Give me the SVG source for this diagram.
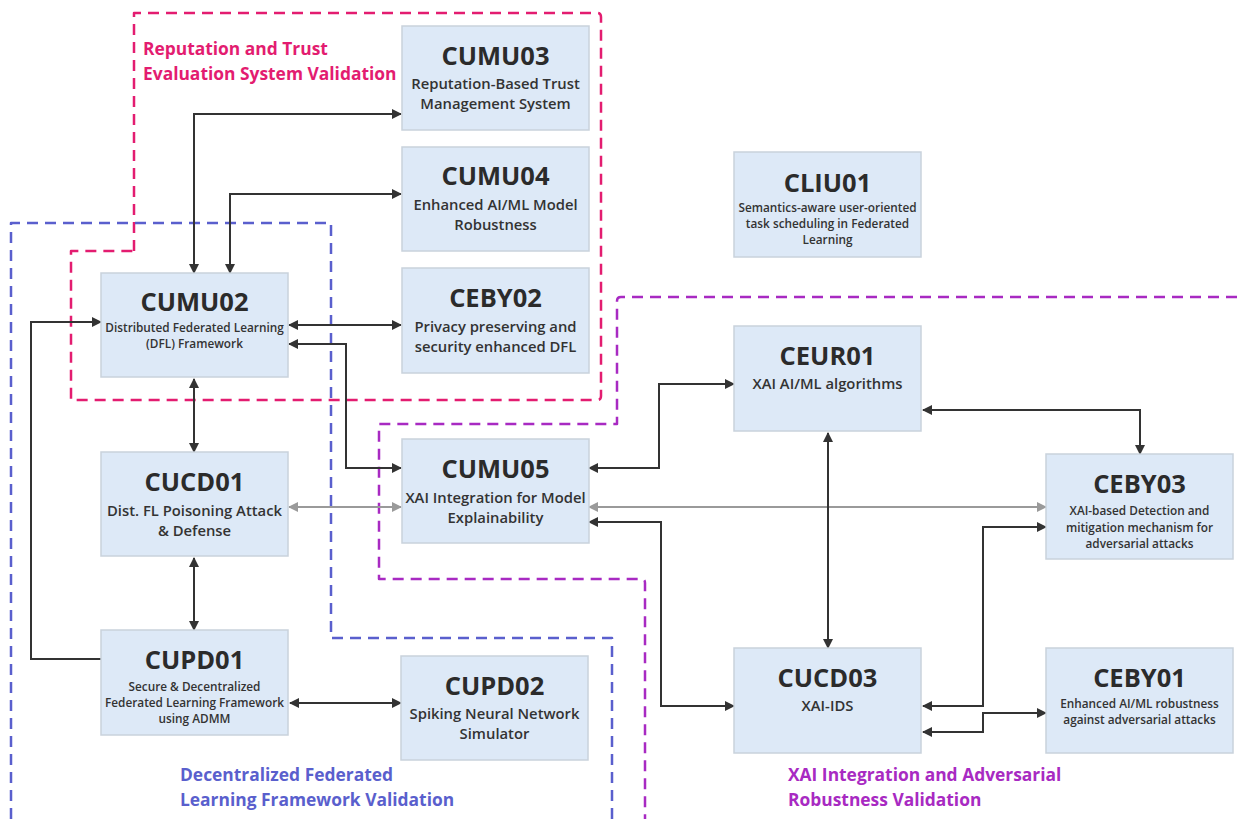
<svg xmlns="http://www.w3.org/2000/svg" width="1237" height="819" viewBox="0 0 1237 819">
  <defs>
    <style>
      .node rect { fill: #dde9f7; stroke: #c9d2dc; stroke-width: 1.5; }
      .title { font-family: "Open Sans", "Noto Sans", sans-serif; font-weight: 700; font-size: 25.5px; fill: #2b2b2b; text-anchor: middle; }
      .sub { font-family: "Open Sans", "Noto Sans", sans-serif; font-weight: 600; font-size: 14.8px; fill: #333; text-anchor: middle; }
      .sub-s { font-family: "Open Sans", "Noto Sans", sans-serif; font-weight: 600; font-size: 11.8px; fill: #333; text-anchor: middle; }
      .zone { fill: none; stroke-width: 2.5; stroke-dasharray: 11 7; stroke-linejoin: round; }
      .zone-label { font-family: "Open Sans", "Noto Sans", sans-serif; font-weight: 700; font-size: 17.4px; }
      .link { fill: none; stroke: #333; stroke-width: 2; marker-start: url(#head); marker-end: url(#head); }
      .link-one { fill: none; stroke: #333; stroke-width: 2; marker-end: url(#head); }
      .link-grey { fill: none; stroke: #9a9a9a; stroke-width: 2; marker-start: url(#head-grey); marker-end: url(#head-grey); }
    </style>
    <marker id="head" viewBox="0 0 10 10" refX="9" refY="5" markerWidth="5" markerHeight="5" orient="auto-start-reverse" markerUnits="strokeWidth">
      <path d="M0,0 L10,5 L0,10 Z" fill="#333"/>
    </marker>
    <marker id="head-grey" viewBox="0 0 10 10" refX="9" refY="5" markerWidth="5" markerHeight="5" orient="auto-start-reverse" markerUnits="strokeWidth">
      <path d="M0,0 L10,5 L0,10 Z" fill="#9a9a9a"/>
    </marker>
  </defs>

  <rect width="1237" height="819" fill="#ffffff"/>

  <!-- validation zones -->
  <g id="zones">
    <path class="zone" stroke="#e31c70" d="M134,251 V13 H597 Q601,13 601,17 V396 Q601,400 597,400 H71 V251 Z"/>
    <path class="zone" stroke="#5a5fcd" d="M11,819 V223 H331 V638 H612 V819"/>
    <path class="zone" stroke="#a82ac2" d="M1237,297 H621 Q617,297 617,301 V424 H379 V579 H641 Q645,579 645,583 V819"/>
    <text class="zone-label" fill="#e31c70" x="143" y="55">Reputation and Trust</text>
    <text class="zone-label" fill="#e31c70" x="143" y="80">Evaluation System Validation</text>
    <text class="zone-label" fill="#5a5fcd" x="180" y="781">Decentralized Federated</text>
    <text class="zone-label" fill="#5a5fcd" x="180" y="806">Learning Framework Validation</text>
    <text class="zone-label" fill="#a82ac2" x="788" y="781">XAI Integration and Adversarial</text>
    <text class="zone-label" fill="#a82ac2" x="788" y="806">Robustness Validation</text>
  </g>

  <!-- connectors -->
  <g id="connectors">
    <path class="link" d="M194,273 V114 H401"/>
    <path class="link" d="M230,273 V194 H401"/>
    <path class="link" d="M289,325 H401"/>
    <path class="link" d="M289,344 H346 V468 H401"/>
    <path class="link-one" d="M101,659 H31 V322 H101"/>
    <path class="link" d="M194,379 V452"/>
    <path class="link" d="M194,558 V630"/>
    <path class="link" d="M290,703 H401"/>
    <path class="link-grey" d="M289,507 H401"/>
    <path class="link-grey" d="M589,507 H1046"/>
    <path class="link" d="M589,468 H659 V384 H734"/>
    <path class="link" d="M923,410 H1140 V454"/>
    <path class="link" d="M828,433 V648"/>
    <path class="link" d="M589,522 H661 V706 H734"/>
    <path class="link" d="M1046,527 H983 V706 H923"/>
    <path class="link" d="M923,732 H983 V713 H1046"/>
  </g>

  <!-- nodes -->
  <g id="CUMU03" class="node">
    <rect x="402" y="26" width="187" height="104"/>
    <text class="title" x="495.5" y="65">CUMU03</text>
    <text class="sub" x="495.5" y="89">Reputation-Based Trust</text>
    <text class="sub" x="495.5" y="109">Management System</text>
  </g>
  <g id="CUMU04" class="node">
    <rect x="402" y="147" width="187" height="104"/>
    <text class="title" x="495.5" y="185">CUMU04</text>
    <text class="sub" x="495.5" y="210">Enhanced AI/ML Model</text>
    <text class="sub" x="495.5" y="230">Robustness</text>
  </g>
  <g id="CLIU01" class="node">
    <rect x="734" y="152" width="187" height="105"/>
    <text class="title" x="827.5" y="192">CLIU01</text>
    <text class="sub-s" x="827.5" y="212">Semantics-aware user-oriented</text>
    <text class="sub-s" x="827.5" y="228">task scheduling in Federated</text>
    <text class="sub-s" x="827.5" y="244">Learning</text>
  </g>
  <g id="CUMU02" class="node">
    <rect x="101" y="273" width="187" height="104"/>
    <text class="title" x="194.5" y="311">CUMU02</text>
    <text class="sub-s" x="194.5" y="332">Distributed Federated Learning</text>
    <text class="sub-s" x="194.5" y="348">(DFL) Framework</text>
  </g>
  <g id="CEBY02" class="node">
    <rect x="402" y="268" width="187" height="105"/>
    <text class="title" x="495.5" y="307">CEBY02</text>
    <text class="sub" x="495.5" y="332">Privacy preserving and</text>
    <text class="sub" x="495.5" y="352">security enhanced DFL</text>
  </g>
  <g id="CEUR01" class="node">
    <rect x="734" y="326" width="187" height="105"/>
    <text class="title" x="827.5" y="365">CEUR01</text>
    <text class="sub" x="827.5" y="389">XAI AI/ML algorithms</text>
  </g>
  <g id="CUCD01" class="node">
    <rect x="101" y="452" width="187" height="104"/>
    <text class="title" x="194.5" y="491">CUCD01</text>
    <text class="sub" x="194.5" y="516">Dist. FL Poisoning Attack</text>
    <text class="sub" x="194.5" y="536">&amp; Defense</text>
  </g>
  <g id="CUMU05" class="node">
    <rect x="402" y="439" width="187" height="104"/>
    <text class="title" x="495.5" y="478">CUMU05</text>
    <text class="sub" x="495.5" y="503">XAI Integration for Model</text>
    <text class="sub" x="495.5" y="523">Explainability</text>
  </g>
  <g id="CEBY03" class="node">
    <rect x="1046" y="454" width="187" height="105"/>
    <text class="title" x="1139.5" y="493">CEBY03</text>
    <text class="sub-s" x="1139.5" y="515">XAI-based Detection and</text>
    <text class="sub-s" x="1139.5" y="532">mitigation mechanism for</text>
    <text class="sub-s" x="1139.5" y="548">adversarial attacks</text>
  </g>
  <g id="CUPD01" class="node">
    <rect x="101" y="630" width="187" height="105"/>
    <text class="title" x="194.5" y="669">CUPD01</text>
    <text class="sub-s" x="194.5" y="691">Secure &amp; Decentralized</text>
    <text class="sub-s" x="194.5" y="707">Federated Learning Framework</text>
    <text class="sub-s" x="194.5" y="723">using ADMM</text>
  </g>
  <g id="CUPD02" class="node">
    <rect x="401" y="656" width="187" height="104"/>
    <text class="title" x="494.5" y="695">CUPD02</text>
    <text class="sub" x="494.5" y="719">Spiking Neural Network</text>
    <text class="sub" x="494.5" y="739">Simulator</text>
  </g>
  <g id="CUCD03" class="node">
    <rect x="734" y="648" width="187" height="105"/>
    <text class="title" x="827.5" y="687">CUCD03</text>
    <text class="sub" x="827.5" y="711">XAI-IDS</text>
  </g>
  <g id="CEBY01" class="node">
    <rect x="1046" y="648" width="187" height="105"/>
    <text class="title" x="1139.5" y="687">CEBY01</text>
    <text class="sub-s" x="1139.5" y="708">Enhanced AI/ML robustness</text>
    <text class="sub-s" x="1139.5" y="724">against adversarial attacks</text>
  </g>
</svg>
